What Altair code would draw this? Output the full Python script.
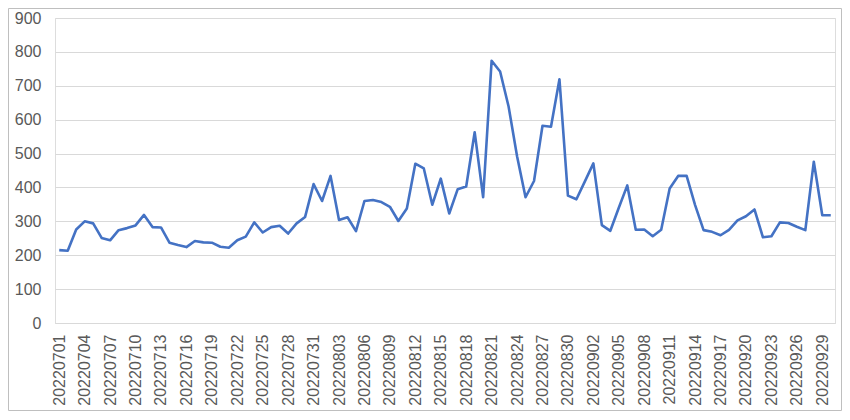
import altair as alt
import pandas as pd

dates = [d.strftime("%Y%m%d") for d in pd.date_range("2022-07-01", "2022-09-30", freq="D")]

values = [
    215, 213, 276, 300, 294, 251, 244, 274, 280, 288, 319, 283, 282, 237, 230, 224,
    242, 238, 237, 225, 222, 244, 255, 297, 267, 283, 287, 264, 294, 313, 410, 360,
    434, 304, 312, 271, 360, 363, 357, 343, 301, 338, 470, 456, 349, 426, 323, 395,
    403, 563, 371, 774, 742, 639, 492, 371, 419, 582, 579, 719, 376, 365, 418, 471,
    289, 272, 340, 406, 275, 276, 256, 275, 397, 434, 434, 348, 274, 269, 259, 275,
    303, 315, 335, 253, 256, 297, 295, 284, 274, 476, 318, 318,
]

tick_labels = dates[::3]
y_ticks = list(range(0, 901, 100))

df = pd.DataFrame({"date": dates, "value": values})

W, H = 780, 305
PL, PT, PR, PB = 47, 10, 7, 88

line = alt.Chart(df).mark_line(color="#4472C4", strokeWidth=2.6, strokeJoin="round").encode(
    x=alt.X("date:O", sort=dates, title=None,
            scale=alt.Scale(type="point", padding=0.5),
            axis=alt.Axis(values=tick_labels, labelAngle=-90, labelFontSize=16,
                          labelColor="#595959", labelFont="Liberation Sans",
                          labelPadding=11, ticks=False, domain=True,
                          domainColor="#D9D9D9", domainWidth=1, grid=False)),
    y=alt.Y("value:Q", title=None,
            scale=alt.Scale(domain=[0, 900], nice=False),
            axis=alt.Axis(values=y_ticks, labelFontSize=16, labelColor="#595959",
                          labelFont="Liberation Sans", labelPadding=14, ticks=False,
                          domain=False, grid=True, gridColor="#D9D9D9", gridWidth=1)),
)

border = alt.Chart(pd.DataFrame({"a": [0]})).mark_rect(
    fill=None, stroke="#BFBFBF", strokeWidth=1
).encode(
    x=alt.value(-PL + 0.5), x2=alt.value(W + PR - 0.5),
    y=alt.value(-PT + 0.5), y2=alt.value(H + PB - 0.5),
)

chart = alt.layer(border, line).properties(
    width=W, height=H,
    autosize=alt.AutoSizeParams(type="none"),
    padding={"left": PL, "top": PT, "right": PR, "bottom": PB},
).configure_view(stroke=None).configure(background="white")

chart.save("out.html", embed_options={"renderer": "svg", "actions": False})
